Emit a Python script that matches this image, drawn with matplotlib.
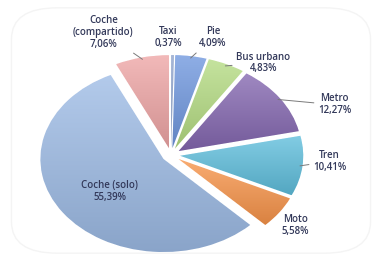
import numpy as np
import matplotlib
matplotlib.use('Agg')
import matplotlib.pyplot as plt
from matplotlib.colors import to_rgb
from matplotlib.patches import FancyBboxPatch

# ------------------
# data
# ------------------
modes = ['Taxi', 'Pie', 'Bus urbano', 'Metro', 'Tren', 'Moto',
         'Coche (solo)', 'Coche\n(compartido)']
shares = [0.37, 4.09, 4.83, 12.27, 10.41, 5.58, 55.39, 7.06]
colors = ['#8ea3cc', '#6f97de', '#b4db82', '#8467b0', '#5fbedc', '#f7944a',
          '#9dbbe5', '#eea5a5']

# label centres (data coords) and whether a leader line is drawn
label_pos = [(-0.02, 1.26), (0.34, 1.26), (0.75, 0.99), (1.33, 0.54),
             (1.29, -0.07), (1.01, -0.76), (-0.50, -0.39), (-0.55, 1.32)]
leader = [False, True, True, True, True, False, False, True]


def shade(c, f):
    # f > 0 lighter, f < 0 darker
    c = np.array(to_rgb(c))
    if f > 0:
        return c + (1 - c) * f
    return c * (1 + f)

# ------------------
# plot
# ------------------
plt.rcParams['font.family'] = ['Open Sans', 'DejaVu Sans']

fig = plt.figure(figsize=(3.82, 2.61), dpi=100)
fig.patch.set_facecolor('white')
ax = fig.add_axes([0, 0, 1, 1])

explode = [0.075] * len(shares)
wedges, _ = ax.pie(shares, colors=colors, explode=explode, startangle=90,
                   counterclock=False, radius=1.0,
                   wedgeprops=dict(linewidth=0.6, edgecolor='white'))
ax.set_aspect('auto')
ax.set_xlim(-1.39, 1.715)
ax.set_ylim(-1.14, 1.667)
ax.axis('off')

# soft vertical gradient on each slice (light top, darker bottom)
for w, c in zip(wedges, colors):
    verts = w.get_path().vertices
    x0, y0 = verts.min(axis=0)
    x1, y1 = verts.max(axis=0)
    grad = np.linspace(0, 1, 50)[:, None]
    top, bot = shade(c, 0.22), shade(c, -0.12)
    img = top[None, None, :] * (1 - grad[:, :, None]) + bot[None, None, :] * grad[:, :, None]
    im = ax.imshow(img, extent=(x0, x1, y0, y1), origin='upper',
                   aspect='auto', zorder=w.get_zorder() + 0.1,
                   interpolation='bilinear')
    im.set_clip_path(w)
ax.set_xlim(-1.39, 1.715)
ax.set_ylim(-1.14, 1.667)

for w, name, val, pos, lead in zip(wedges, modes, shares, label_pos, leader):
    txt = name + '\n' + ('%.2f%%' % val).replace('.', ',')
    if lead:
        ang = np.deg2rad((w.theta1 + w.theta2) / 2)
        cx, cy = w.center
        pt = (cx + 0.98 * np.cos(ang), cy + 0.98 * np.sin(ang))
        ax.annotate(txt, xy=pt, xytext=pos, ha='center', va='center',
                    fontsize=7, fontweight='semibold', color='#33395a',
                    linespacing=1.1, zorder=5,
                    arrowprops=dict(arrowstyle='-', color='#7a7a7a', lw=0.7,
                                    shrinkA=1, shrinkB=0))
    else:
        ax.text(pos[0], pos[1], txt, ha='center', va='center', zorder=5,
                fontsize=7, fontweight='semibold', color='#33395a',
                linespacing=1.1)

# faint rounded frame
frame = FancyBboxPatch((0.03, 0.03), 0.94, 0.94, transform=fig.transFigure,
                       boxstyle='round,pad=0,rounding_size=0.12',
                       facecolor='none', edgecolor='#f4f4f4', lw=1.0)
fig.patches.append(frame)

fig.savefig('out.png', dpi=100)
